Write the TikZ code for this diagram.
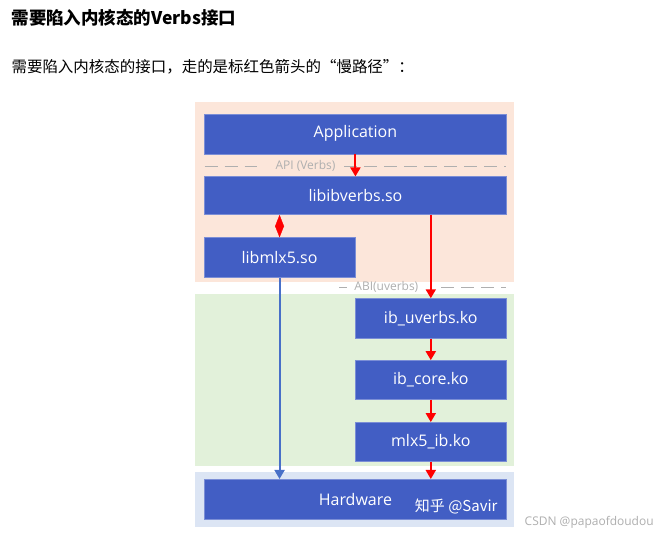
\documentclass[tikz,border=0pt]{standalone}
\usepackage{fontspec}
\setmainfont{Open Sans}
\newfontfamily\cjk{Noto Sans CJK SC}
\usetikzlibrary{arrows.meta}
\definecolor{boxblue}{RGB}{66,94,196}
\definecolor{peach}{RGB}{252,230,218}
\definecolor{kgreen}{RGB}{226,241,218}
\definecolor{hwblue}{RGB}{220,229,244}
\definecolor{lineblue}{RGB}{72,112,200}
\definecolor{ifgray}{RGB}{175,175,175}

\begin{document}
\begin{tikzpicture}[x=1pt, y=-1pt, >={Triangle[length=9pt,width=10pt]},
		line width=0.5pt,
		blk/.style={fill=boxblue, draw=boxblue!70!white, text=white, inner sep=0pt,
			font=\fontsize{16}{19}\selectfont, minimum height=40pt},
		wide/.style={blk, minimum width=302pt},
		narrow/.style={blk, minimum width=151pt},
		slow/.style={red, line width=2pt, ->},
		iface/.style={ifgray, line width=1.2pt, dash pattern=on 13pt off 7pt},
		iflabel/.style={text=ifgray, font=\fontsize{12}{14}\selectfont, inner sep=0pt}]
		\fill[white] (0,0) rectangle (657,539);
		\fill[peach] (195,102) rectangle (515,282);
		\fill[kgreen] (195,294) rectangle (515,467);
		\fill[hwblue] (195,473) rectangle (515,528);

		\node[anchor=west, font=\cjk\bfseries\fontsize{17.5}{20}\selectfont] (title) at (8,18) {需要陷入内核态的Verbs接口};
		\node[anchor=west, font=\cjk\fontsize{15.5}{19}\selectfont] (intro) at (8,67) {需要陷入内核态的接口，走的是标红色箭头的“慢路径”：};

		\node[wide] (app) at (356,134) {Application};
		\node[wide, minimum height=38pt] (verbs) at (356,196) {libibverbs.so};
		\node[narrow] (libmlx) at (280,258) {libmlx5.so};
		\node[narrow] (uverbs) at (431.5,319) {ib\_uverbs.ko};
		\node[narrow, minimum height=39pt] (core) at (431.5,380.5) {ib\_core.ko};
		\node[narrow, minimum height=39pt] (mlxib) at (431.5,442.5) {mlx5\_ib.ko};
		\node[wide] (hw) at (356,500) {Hardware};
		\node[text=white, font=\cjk\fontsize{15}{18}\selectfont] (zhihu) at (457,507) {知乎 @Savir};

		\draw[iface] (205,167) -- (257,167);
		\draw[iface] (345,167) -- (507,167);
		\node[iflabel] (api) at (306,166) {API (Verbs)};
		\draw[iface] (340,288) -- (348,288);
		\draw[iface] (442,288) -- (507,288);
		\node[iflabel] (abi) at (387,287) {ABI(uverbs)};

		\draw[slow] (app.south) -- (verbs.north);
		\draw[red, line width=0.3pt, {Triangle[length=11.5pt,width=9pt]}-{Triangle[length=11.5pt,width=9pt]}]
			(libmlx.north |- verbs.south) -- (libmlx.north);
		\draw[slow] (uverbs.north |- verbs.south) -- (uverbs.north);
		\draw[slow] (uverbs.south) -- (core.north);
		\draw[slow] (core.south) -- (mlxib.north);
		\draw[slow] (mlxib.south) -- (mlxib.south |- hw.north);
		\draw[lineblue, line width=2pt, ->] (libmlx.south) -- (libmlx.south |- hw.north);

		\node[anchor=west, text=ifgray, font=\fontsize{12}{14}\selectfont] (csdn) at (522,523) {CSDN @papaofdoudou};
	\end{tikzpicture}
\end{document}
